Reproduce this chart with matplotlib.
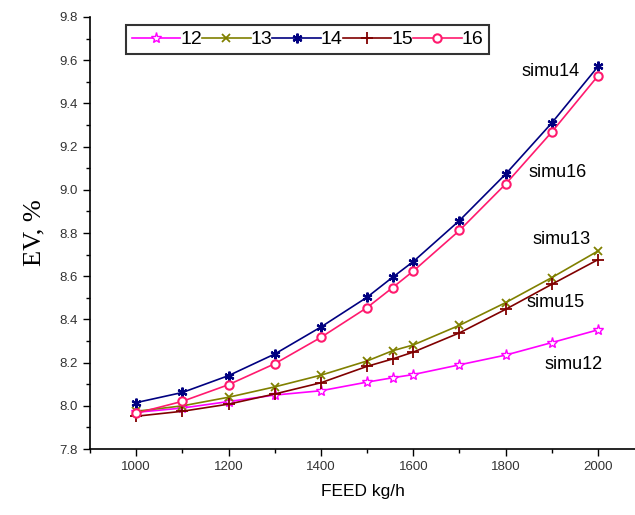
import matplotlib.pyplot as plt
from matplotlib.ticker import MultipleLocator

feed = [1000, 1100, 1200, 1300, 1400, 1500, 1555, 1600, 1700, 1800, 1900, 2000]
ev12 = [7.97, 7.99, 8.02, 8.05, 8.07, 8.11, 8.13, 8.145, 8.19, 8.235, 8.293, 8.352]
ev13 = [7.975, 8.0, 8.04, 8.088, 8.142, 8.208, 8.255, 8.282, 8.373, 8.478, 8.594, 8.717]
ev14 = [8.015, 8.062, 8.14, 8.24, 8.365, 8.503, 8.595, 8.668, 8.858, 9.073, 9.31, 9.571]
ev15 = [7.952, 7.975, 8.008, 8.055, 8.107, 8.183, 8.217, 8.249, 8.338, 8.447, 8.563, 8.677]
ev16 = [7.966, 8.021, 8.098, 8.195, 8.317, 8.455, 8.547, 8.624, 8.812, 9.027, 9.268, 9.528]
names = ["12", "13", "14", "15", "16"]
labels = ["simu14", "simu16", "simu13", "simu15", "simu12"]

plt.rcParams['font.family'] = ['Liberation Sans', 'DejaVu Sans']

fig = plt.figure(figsize=(6.35, 5.15), dpi=100)
ax = fig.add_axes([0.1417, 0.128, 0.8583, 0.839])

ax.plot(feed, ev12, color='#ff00ff', marker='*', ms=8, mfc='white', mec='#ff00ff', lw=1.2, label=names[0])
ax.plot(feed, ev13, color='#808000', marker='x', ms=6, mew=1.3, lw=1.2, label=names[1])
ax.plot(feed, ev14, color='#000080', marker=(6, 2, 0), ms=7, mew=1.6, lw=1.2, label=names[2])
ax.plot(feed, ev15, color='#800000', marker='+', ms=8, mew=1.3, lw=1.2, label=names[3])
ax.plot(feed, ev16, color='#ff1a6e', marker='o', ms=6, mfc='white', mec='#ff1a6e', mew=1.5, lw=1.2, label=names[4])

ax.set_xlim(900, 2080)
ax.set_ylim(7.8, 9.8)
ax.xaxis.set_major_locator(MultipleLocator(200))
ax.xaxis.set_minor_locator(MultipleLocator(100))
ax.yaxis.set_major_locator(MultipleLocator(0.2))
ax.yaxis.set_minor_locator(MultipleLocator(0.1))
ax.yaxis.set_major_formatter(plt.FormatStrFormatter('%.1f'))
ax.tick_params(which='major', direction='out', length=5, width=1, labelsize=9.5, labelcolor='#333333')
ax.tick_params(which='minor', direction='out', length=3, width=1)
ax.spines['top'].set_visible(False)
ax.spines['right'].set_visible(False)
ax.spines['left'].set_linewidth(1.2)
ax.spines['bottom'].set_linewidth(1.2)

ax.set_xlabel("FEED kg/h", fontsize=12.5, labelpad=8)
ax.set_ylabel("EV, %", fontsize=19, family=['Liberation Serif', 'DejaVu Serif'], labelpad=10)

ax.text(1960, 9.55, labels[0], fontsize=13, ha='right', va='center')
ax.text(1850, 9.08, labels[1], fontsize=13, ha='left', va='center')
ax.text(1985, 8.73, labels[2], fontsize=13, ha='right', va='bottom')
ax.text(1845, 8.48, labels[3], fontsize=13, ha='left', va='center')
ax.text(1885, 8.19, labels[4], fontsize=13, ha='left', va='center')

leg = ax.legend(loc='upper left', bbox_to_anchor=(0.055, 0.995), ncol=5, fontsize=14,
                handlelength=2.5, handletextpad=0.0, columnspacing=0.0,
                frameon=True, fancybox=False, borderpad=0.3, borderaxespad=0.3)
leg.get_frame().set_edgecolor('black')
leg.get_frame().set_linewidth(1.5)

fig.savefig("out.png", dpi=100)
